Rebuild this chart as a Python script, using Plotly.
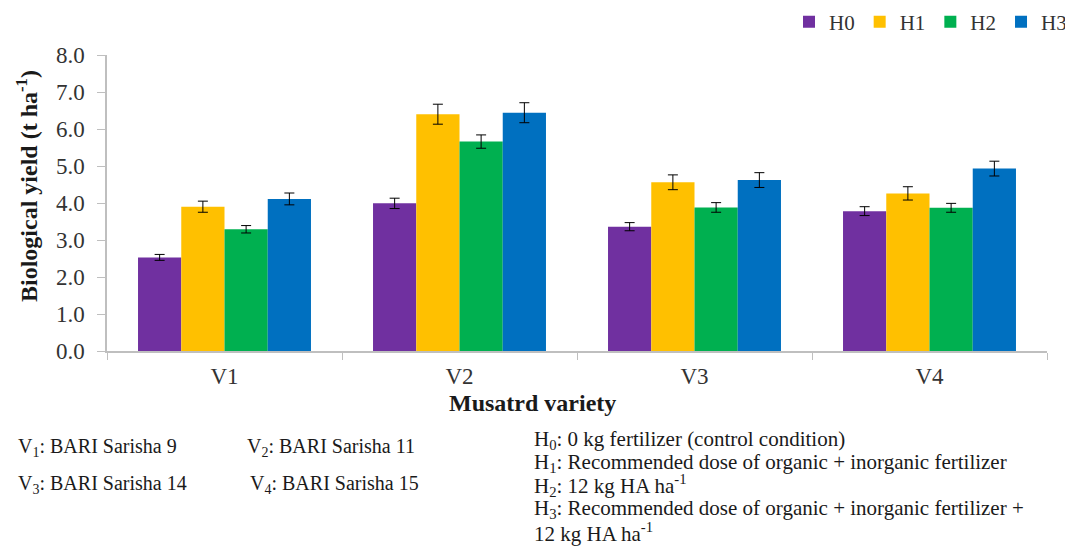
import plotly.graph_objects as go

categories = ["V1", "V2", "V3", "V4"]
series_names = ["H0", "H1", "H2", "H3"]
H0 = [2.53, 3.99, 3.36, 3.78]
H1 = [3.90, 6.40, 4.56, 4.26]
H2 = [3.29, 5.66, 3.88, 3.87]
H3 = [4.11, 6.44, 4.62, 4.93]
H0_err = [0.08, 0.14, 0.11, 0.12]
H1_err = [0.15, 0.27, 0.20, 0.18]
H2_err = [0.10, 0.18, 0.13, 0.12]
H3_err = [0.16, 0.27, 0.20, 0.20]
colors = ["#7030A0", "#FFC000", "#00B050", "#0070C0"]
y_ticks = [0, 1, 2, 3, 4, 5, 6, 7, 8]

values = [H0, H1, H2, H3]
errors = [H0_err, H1_err, H2_err, H3_err]

SERIF = "Liberation Serif"
PAGE_W, PAGE_H = 1073, 546
OFF = 8  # default body margin of the html page
W, H = PAGE_W - OFF, PAGE_H - OFF

# plot area in page pixels
PL, PR, PT, PB = 107, 1047, 55, 351

fig = go.Figure()
for name, vals, errs, col in zip(series_names, values, errors, colors):
    fig.add_trace(go.Bar(
        name=name, x=categories, y=vals, marker_color=col,
        marker_line_width=0,
        error_y=dict(type="data", array=errs, color="black", thickness=1, width=5),
    ))

fig.update_layout(
    width=W, height=H,
    margin=dict(l=PL - OFF, r=W - (PR - OFF), t=PT - OFF, b=H - (PB - OFF), autoexpand=False),
    paper_bgcolor="white", plot_bgcolor="white",
    barmode="group", bargap=0.264, bargroupgap=0,
    font=dict(family=SERIF, size=19, color="#333333"),
    showlegend=True,
    legend=dict(orientation="h", xref="container", yref="container",
                x=(1072 - OFF) / W, xanchor="right", y=1 - (22 - OFF) / H, yanchor="middle",
                font=dict(family=SERIF, size=21, color="#333333"),
                itemwidth=30, traceorder="normal"),
    xaxis=dict(type="category", tickson="boundaries", ticks="outside", ticklen=7,
               tickcolor="#bfbfbf", showline=True, linecolor="#bfbfbf", linewidth=1.5,
               showgrid=False, automargin=False, ticklabelstandoff=4,
               tickfont=dict(family=SERIF, size=23, color="#333333")),
    yaxis=dict(range=[0, 8], tickvals=y_ticks, tickformat=".1f", ticks="outside", ticklen=8,
               tickcolor="#bfbfbf", showline=True, linecolor="#bfbfbf", linewidth=1.5,
               showgrid=False, zeroline=False, automargin=False, ticklabelstandoff=8,
               tickfont=dict(family=SERIF, size=23, color="#333333")),
)

def px_x(px):
    return (px - PL) / float(PR - PL)

def px_y(py):
    return (PB - py) / float(PB - PT)

def ann(text, x, y, size=21, bold=False, angle=0, xanchor="left", family=SERIF):
    fig.add_annotation(text=("<b>%s</b>" % text) if bold else text,
                       x=px_x(x), y=px_y(y), xref="paper", yref="paper",
                       xanchor=xanchor, yanchor="middle", showarrow=False,
                       textangle=angle, font=dict(family=family, size=size, color="#1a1a1a"))

ann("Biological yield (t ha<sup>-1</sup>)", 27, 186, size=24, bold=True, angle=-90, xanchor="center")
ann("Musatrd variety", 532, 403, size=24, bold=True, xanchor="center")

ann("V<sub>1</sub>: BARI Sarisha 9", 16, 447, size=20)
ann("V<sub>2</sub>: BARI Sarisha 11", 245, 447, size=20)
ann("V<sub>3</sub>: BARI Sarisha 14", 16, 484, size=20)
ann("V<sub>4</sub>: BARI Sarisha 15", 248, 484, size=20)

ann("H<sub>0</sub>: 0 kg fertilizer (control condition)", 532, 440)
ann("H<sub>1</sub>: Recommended dose of organic + inorganic fertilizer", 532, 463)
ann("H<sub>2</sub>: 12 kg HA ha<sup>-1</sup>", 532, 485)
ann("H<sub>3</sub>: Recommended dose of organic + inorganic fertilizer +", 532, 509)
ann("12 kg HA ha<sup>-1</sup>", 532, 532)

fig.write_html("out.html")
